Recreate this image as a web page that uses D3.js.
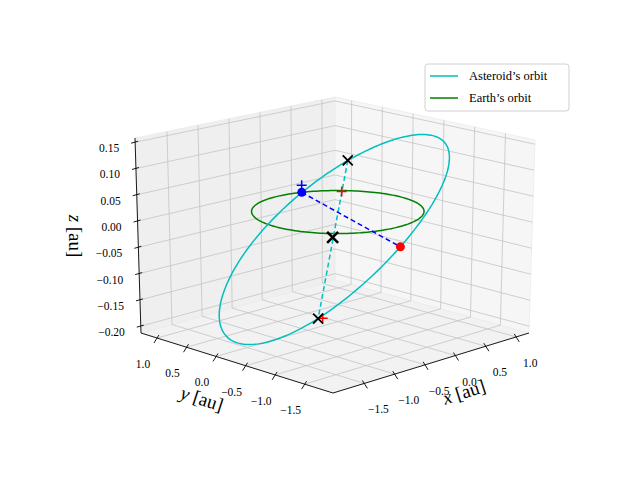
<!DOCTYPE html>
<html><head><meta charset="utf-8">
<script src="https://cdn.jsdelivr.net/npm/d3@7"></script>
<style>body{margin:0;background:#fff}text{font-family:"Liberation Serif","DejaVu Serif",serif;fill:#000}</style>
</head><body><svg width="640" height="480"></svg>
<script>
// ---- data ----
const xTicks = [-1.5, -1.0, -0.5, 0.0, 0.5, 1.0];
const yTicks = [-1.5, -1.0, -0.5, 0.0, 0.5, 1.0];
const zTicks = [-0.20, -0.15, -0.10, -0.05, 0.00, 0.05, 0.10, 0.15];
const xDomain = [-2.016, 1.21];
const yDomain = [-1.98, 1.27];
const zDomain = [-0.213, 0.158];
// asteroid orbital elements: a [au], e, i [deg], Omega [deg], omega [deg]
const asteroidElements = [1.425, 0.327, 7, 250, 148.2];
// Earth orbit: a [au], e, i, Omega, omega
const earthElements = [1.0, 0.0, 0, 0, 0];
// markers [x,y,z]
const blueNode = [0.34, 0.94, 0.0];
const redNode = [-0.598, -1.654, 0.0];
const perihelion = [0.750, 0.596, 0.062];
const aphelion = [-1.473, -1.178, -0.121];
const ellipseCenter = [-0.365, -0.289, -0.030];
const redPlus = [[0.292, 0.230, 0.024], [-1.42, -1.20, -0.121]];
const bluePlus = [[0.34, 0.94, 0.014]];
const legendLabels = ["Asteroid\u2019s orbit", "Earth\u2019s orbit"];
const legendColors = ["#00bfbf", "#008000"];

// ---- projection (trilinear from box corners) ----
const U = d3.scaleLinear().domain(xDomain).range([0, 1]);
const V = d3.scaleLinear().domain(yDomain).range([0, 1]);
const W = d3.scaleLinear().domain(zDomain).range([0, 1]);
const C = {
  b00: [333, 393], b10: [529, 333], b01: [141, 333], b11: [335, 280],
  t00: [331, 188], t10: [535, 140], t01: [135, 138], t11: [335, 97]
};
function bil(p00, p10, p01, p11, u, v) {
  return [0, 1].map(k => p00[k] * (1 - u) * (1 - v) + p10[k] * u * (1 - v) + p01[k] * (1 - u) * v + p11[k] * u * v);
}
function proj(x, y, z) {
  const u = U(x), v = V(y), w = W(z);
  const b = bil(C.b00, C.b10, C.b01, C.b11, u, v), t = bil(C.t00, C.t10, C.t01, C.t11, u, v);
  return [b[0] + (t[0] - b[0]) * w, b[1] + (t[1] - b[1]) * w];
}
const P = p => proj(p[0], p[1], p[2]);
const line = d3.line();
const svg = d3.select("svg");
const [x0, x1] = xDomain, [y0, y1] = yDomain, [z0, z1] = zDomain;

function poly(pts, fill) { svg.append("path").attr("d", line(pts.map(P)) + "Z").attr("fill", fill).attr("stroke", "#ebebeb").attr("stroke-width", 0.8); }
poly([[x0, y0, z0], [x1, y0, z0], [x1, y1, z0], [x0, y1, z0]], "#f2f2f2");
poly([[x0, y1, z0], [x1, y1, z0], [x1, y1, z1], [x0, y1, z1]], "#efefef");
poly([[x1, y0, z0], [x1, y1, z0], [x1, y1, z1], [x1, y0, z1]], "#f6f6f6");

function seg(a, b, color, w, dash) {
  const s = svg.append("path").attr("d", line([P(a), P(b)])).attr("stroke", color).attr("stroke-width", w).attr("fill", "none");
  if (dash) s.attr("stroke-dasharray", dash);
  return s;
}
const gc = "#c4c4c4";
xTicks.forEach(x => { seg([x, y0, z0], [x, y1, z0], gc, 0.8); seg([x, y1, z0], [x, y1, z1], gc, 0.8); });
yTicks.forEach(y => { seg([x0, y, z0], [x1, y, z0], gc, 0.8); seg([x1, y, z0], [x1, y, z1], gc, 0.8); });
zTicks.forEach(z => { seg([x0, y1, z], [x1, y1, z], gc, 0.8); seg([x1, y0, z], [x1, y1, z], gc, 0.8); });

seg([x0, y0, z0], [x1, y0, z0], "#000", 0.9);
seg([x0, y0, z0], [x0, y1, z0], "#000", 0.9);
seg([x0, y1, z0], [x0, y1, z1], "#000", 0.9);

const fs = 11.5;
xTicks.forEach(x => {
  const p = proj(x, y0, z0);
  svg.append("line").attr("x1", p[0] - 2).attr("y1", p[1] - 3).attr("x2", p[0] + 3).attr("y2", p[1] + 5).attr("stroke", "#000").attr("stroke-width", 0.9);
  svg.append("text").attr("x", p[0] + 14).attr("y", p[1] + 30).attr("text-anchor", "middle").attr("font-size", fs).text(d3.format(".1f")(x).replace("-", "\u2212"));
});
yTicks.forEach(y => {
  const p = proj(x0, y, z0);
  svg.append("line").attr("x1", p[0] + 2).attr("y1", p[1] - 3).attr("x2", p[0] - 3).attr("y2", p[1] + 5).attr("stroke", "#000").attr("stroke-width", 0.9);
  svg.append("text").attr("x", p[0] - 14).attr("y", p[1] + 30).attr("text-anchor", "middle").attr("font-size", fs).text(d3.format(".1f")(y).replace("-", "\u2212"));
});
zTicks.forEach(z => {
  const p = proj(x0, y1, z);
  svg.append("line").attr("x1", p[0] - 4).attr("y1", p[1] + 1).attr("x2", p[0] + 3).attr("y2", p[1] - 1).attr("stroke", "#000").attr("stroke-width", 0.9);
  svg.append("text").attr("x", p[0] - 16).attr("y", p[1] + 10).attr("text-anchor", "end").attr("font-size", fs).text(d3.format(".2f")(z).replace("-", "\u2212"));
});
function axisLabel(x, y, rot, txt) {
  const t = svg.append("text").attr("transform", `translate(${x},${y}) rotate(${rot})`).attr("text-anchor", "middle").attr("font-size", 19);
  t.append("tspan").attr("font-style", "italic").text(txt);
  t.append("tspan").text(" [au]");
}
axisLabel(466, 398, -18, "x");
axisLabel(200, 405, 18, "y");
axisLabel(69, 236, 90, "z");

function orbitPoint(el, nu) {
  const [a, e, inc, Om, om] = el;
  const r = a * (1 - e * e) / (1 + e * Math.cos(nu));
  const u = nu + om * Math.PI / 180, O = Om * Math.PI / 180, I = inc * Math.PI / 180;
  return [r * (Math.cos(O) * Math.cos(u) - Math.sin(O) * Math.sin(u) * Math.cos(I)),
          r * (Math.sin(O) * Math.cos(u) + Math.cos(O) * Math.sin(u) * Math.cos(I)),
          r * Math.sin(u) * Math.sin(I)];
}
const nus = d3.range(0, 361, 2).map(d => d * Math.PI / 180);
svg.append("path").attr("d", line(nus.map(n => P(orbitPoint(earthElements, n))))).attr("fill", "none").attr("stroke", legendColors[1]).attr("stroke-width", 1.5);
svg.append("path").attr("d", line(nus.map(n => P(orbitPoint(asteroidElements, n))))).attr("fill", "none").attr("stroke", legendColors[0]).attr("stroke-width", 1.5);

seg(perihelion, aphelion, "#00bfbf", 1.5, "5,3");
seg(blueNode, redNode, "#0000ff", 1.5, "5,3");

function xMark(p, s, w) {
  const [cx, cy] = P(p);
  svg.append("path").attr("d", `M${cx - s},${cy - s}L${cx + s},${cy + s}M${cx - s},${cy + s}L${cx + s},${cy - s}`).attr("stroke", "#000").attr("stroke-width", w);
}
function plus(p, s, color) {
  const [cx, cy] = P(p);
  svg.append("path").attr("d", `M${cx - s},${cy}L${cx + s},${cy}M${cx},${cy - s}L${cx},${cy + s}`).attr("stroke", color).attr("stroke-width", 1.5);
}
function dot(p, color) { const [cx, cy] = P(p); svg.append("circle").attr("cx", cx).attr("cy", cy).attr("r", 4.5).attr("fill", color); }
dot(redNode, "#ff0000");
dot(blueNode, "#0000ff");
bluePlus.forEach(p => plus(p, 5, "#0000ff"));
redPlus.forEach(p => plus(p, 5, "#ff0000"));
xMark(perihelion, 5, 1.8);
xMark(aphelion, 5, 1.8);
xMark(ellipseCenter, 5.5, 2.5);

const lg = svg.append("g").attr("transform", "translate(425,64)");
lg.append("rect").attr("width", 144).attr("height", 47).attr("rx", 3).attr("fill", "#fff").attr("stroke", "#d0d0d0");
legendLabels.forEach((l, i) => {
  lg.append("line").attr("x1", 5).attr("x2", 33).attr("y1", 12 + i * 22).attr("y2", 12 + i * 22).attr("stroke", legendColors[i]).attr("stroke-width", 1.5);
  lg.append("text").attr("x", 44).attr("y", 16 + i * 22).attr("font-size", 12.5).text(l);
});
</script></body></html>
